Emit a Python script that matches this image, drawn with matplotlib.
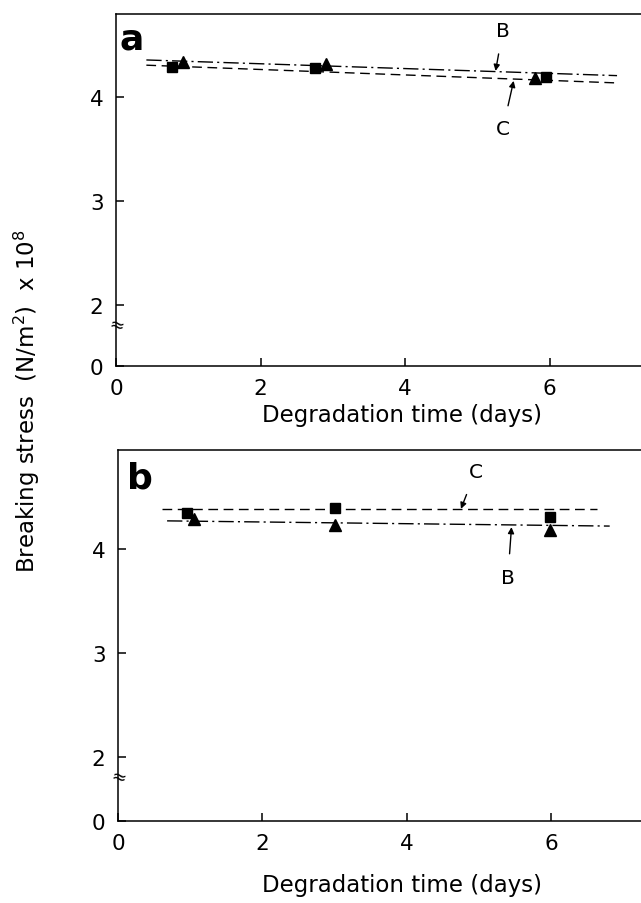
import matplotlib
matplotlib.use("Agg")
import matplotlib.pyplot as plt

plt.rcParams['font.family'] = ['DejaVu Sans']

# ── data (breaking stress, units of 1e8 N/m^2) ──────────────────────────────
days_a_sq = [0.78, 2.75, 5.95]
stress_a_sq = [4.28, 4.27, 4.19]
days_a_tri = [0.92, 2.90, 5.80]
stress_a_tri = [4.33, 4.31, 4.18]
fit_a_days = [0.42, 6.93]
fit_a_B = [4.35, 4.20]
fit_a_C = [4.30, 4.13]

days_b_sq = [0.95, 3.00, 5.98]
stress_b_sq = [4.35, 4.39, 4.31]
days_b_tri = [1.05, 3.00, 5.98]
stress_b_tri = [4.29, 4.23, 4.18]
fit_b_C_days = [0.61, 6.63]
fit_b_C = [4.385, 4.385]
fit_b_B_days = [0.68, 6.81]
fit_b_B = [4.27, 4.22]

yticks = [2, 3, 4]
xticks = [0, 2, 4, 6]

W, H = 641, 904
fig = plt.figure(figsize=(W / 100, H / 100), dpi=100)
fig.patch.set_facecolor("white")

DASH_C = (0, (7, 4))
DASH_B = (0, (11, 3, 1.5, 3))
TICK_FS = 15.5


def panel(left, right, top, bottom, ylo, yhi, xhi, xlab_y):
    ax = fig.add_axes([left / W, 1 - bottom / H, (right - left) / W, (bottom - top) / H])
    ax.set_xlim(0, xhi)
    ax.set_ylim(ylo, yhi)
    ax.spines['right'].set_visible(False)
    for s in ['left', 'bottom', 'top']:
        ax.spines[s].set_linewidth(1.1)
    ax.set_xticks(xticks)
    ax.set_xticklabels([str(t) for t in xticks], fontsize=TICK_FS)
    ax.set_yticks([ylo] + yticks)
    ax.set_yticklabels(["0"] + [str(t) for t in yticks], fontsize=TICK_FS)
    ax.tick_params(direction="in", length=6, width=1.1)
    ax.tick_params(axis="x", pad=9)
    ax.tick_params(axis="y", pad=9)
    # axis break mark between 2 and 0
    ax.text(0, 1.81, "≈", fontsize=13, ha="center", va="center", rotation=-15)
    ax.set_xlabel("Degradation time (days)", fontsize=16.5, va="center")
    ax.xaxis.set_label_coords((402 - left) / (right - left), (bottom - xlab_y) / (bottom - top))
    return ax


def arrow_label(ax, text, tip, lab):
    ax.annotate(text, xy=tip, xytext=lab, fontsize=14.5, ha="center", va="center",
                arrowprops=dict(arrowstyle="-|>", lw=1.0, color="black",
                                mutation_scale=9, shrinkA=8, shrinkB=0))


# ── panel a ────────────────────────────────────────────────────────────────
ax = panel(116, 641, 15, 367, 1.42, 4.79, (641 - 116) / 72.3, 416)
ax.plot(fit_a_days, fit_a_B, color="black", lw=1.0, linestyle=DASH_B)
ax.plot(fit_a_days, fit_a_C, color="black", lw=1.0, linestyle=DASH_C)
ax.plot(days_a_sq, stress_a_sq, "s", color="black", ms=7.5)
ax.plot(days_a_tri, stress_a_tri, "^", color="black", ms=8)
ax.text(0.03, 0.929, "a", transform=ax.transAxes, fontsize=26, fontweight="bold",
        ha="center", va="center")
arrow_label(ax, "B", (5.25, 4.245), (5.35, 4.63))
arrow_label(ax, "C", (5.5, 4.15), (5.35, 3.69))

# ── panel b ────────────────────────────────────────────────────────────────
bx = panel(118, 641, 451, 822, 1.39, 4.95, (641 - 118) / 72.2, 886)
bx.plot(fit_b_C_days, fit_b_C, color="black", lw=1.0, linestyle=DASH_C)
bx.plot(fit_b_B_days, fit_b_B, color="black", lw=1.0, linestyle=DASH_B)
bx.plot(days_b_sq, stress_b_sq, "s", color="black", ms=7.5)
bx.plot(days_b_tri, stress_b_tri, "^", color="black", ms=8)
bx.text(0.041, 0.927, "b", transform=bx.transAxes, fontsize=26, fontweight="bold",
        ha="center", va="center")
arrow_label(bx, "C", (4.75, 4.385), (4.95, 4.74))
arrow_label(bx, "B", (5.45, 4.21), (5.40, 3.73))

# shared y label
fig.text(27 / W, 1 - 401 / H, "Breaking stress  (N/m$^2$)  x 10$^8$", rotation=90,
         fontsize=16.5, ha="center", va="center")

fig.savefig("out.png", dpi=100, facecolor="white")
